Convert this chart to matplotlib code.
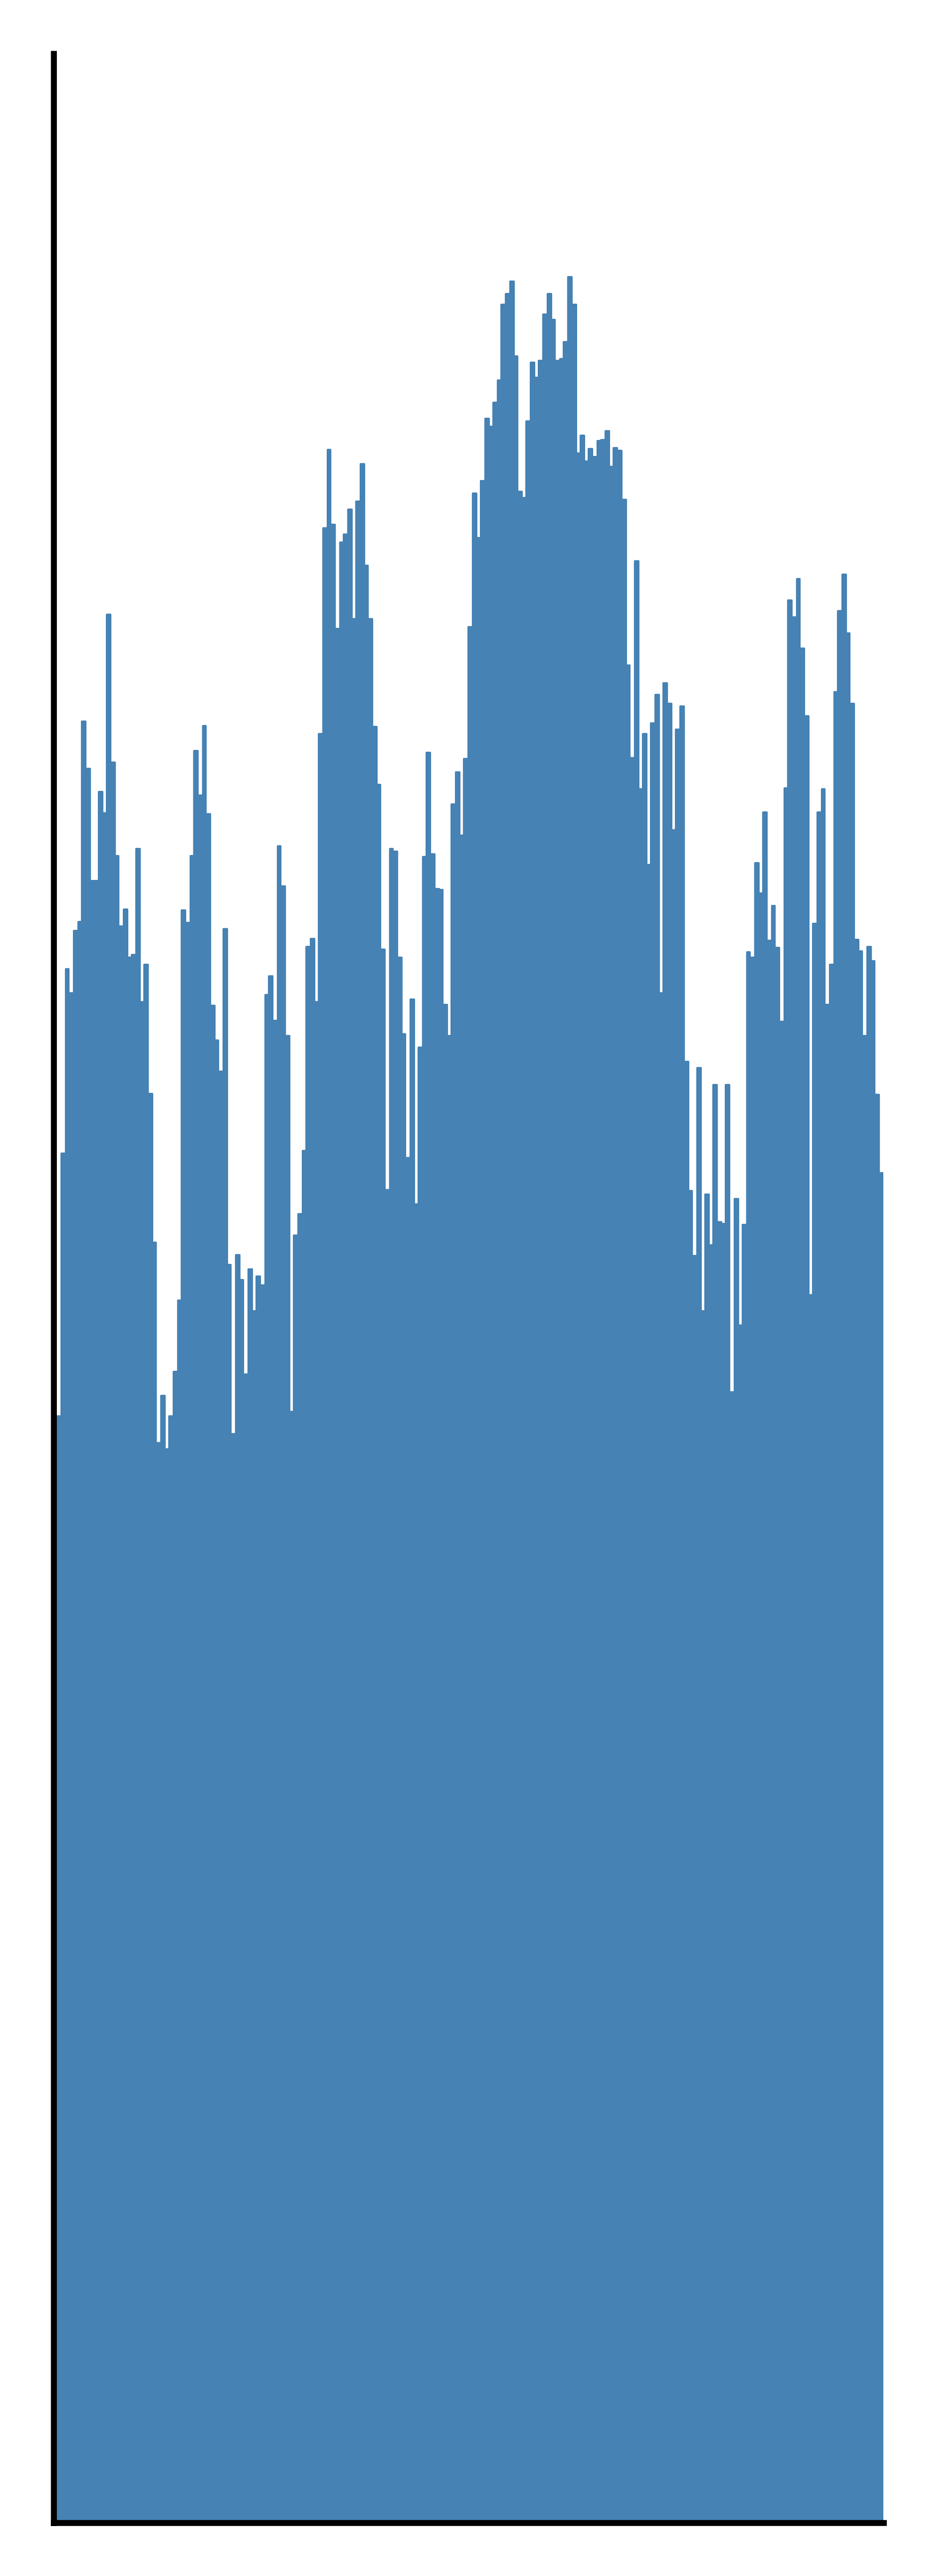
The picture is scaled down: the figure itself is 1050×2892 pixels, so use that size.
import matplotlib

matplotlib.use("Agg")
import matplotlib.pyplot as plt
import numpy as np

# bar heights, left to right (one value per bar)
heights = [
    1242, 1537, 1744, 1717, 1787, 1797, 2022, 1969, 1843, 1843,
    1943, 1919, 2142, 1976, 1871, 1792, 1811, 1757, 1760, 1879,
    1707, 1749, 1604, 1437, 1212, 1265, 1205, 1242, 1292, 1372,
    1810, 1796, 1871, 1989, 1939, 2017, 1918, 1703, 1664, 1629,
    1789, 1412, 1222, 1423, 1395, 1289, 1407, 1360, 1399, 1389,
    1715, 1736, 1686, 1882, 1837, 1669, 1247, 1445, 1469, 1540,
    1769, 1778, 1707, 2008, 2239, 2327, 2243, 2126, 2223, 2232,
    2260, 2137, 2269, 2311, 2197, 2137, 2016, 1951, 1766, 1496,
    1879, 1876, 1757, 1671, 1532, 1710, 1480, 1656, 1870, 1987,
    1873, 1834, 1833, 1704, 1669, 1929, 1965, 1894, 1980, 2128,
    2278, 2228, 2292, 2362, 2353, 2380, 2405, 2490, 2502, 2516,
    2432, 2280, 2273, 2359, 2425, 2408, 2427, 2479, 2502, 2473,
    2427, 2429, 2448, 2521, 2490, 2323, 2343, 2314, 2328, 2319,
    2337, 2338, 2348, 2308, 2329, 2326, 2271, 2085, 1981, 2202,
    1946, 2008, 1861, 2020, 2052, 1717, 2065, 2042, 1900, 2013,
    2039, 1640, 1495, 1422, 1633, 1360, 1491, 1434, 1614, 1460,
    1458, 1614, 1269, 1486, 1344, 1457, 1763, 1757, 1863, 1829,
    1920, 1776, 1815, 1768, 1685, 1947, 2158, 2139, 2182, 2104,
    2028, 1378, 1795, 1920, 1946, 1704, 1749, 2055, 2146, 2187,
    2121, 2042, 1777, 1764, 1669, 1769, 1753, 1603, 1515,
]
Y_MAX = 2772

BAR_COLOR = "steelblue"

fig = plt.figure(figsize=(10.5, 28.92), dpi=100)
ax = fig.add_axes([0.0574, 0.0206, 0.8874, 0.9586])

x = np.arange(len(heights))
ax.bar(
    x,
    heights,
    width=0.8,
    color=BAR_COLOR,
    edgecolor=BAR_COLOR,
    linewidth=1.65,
    joinstyle="round",
)

ax.set_xlim(-1.25, len(heights) - 0.55)
ax.set_ylim(0, Y_MAX)
ax.set_xticks([])
ax.set_yticks([])
for side in ("top", "right"):
    ax.spines[side].set_visible(False)
for side in ("left", "bottom"):
    ax.spines[side].set_linewidth(4.8)
    ax.spines[side].set_color("black")

fig.savefig("out.png", dpi=100, facecolor="white")
